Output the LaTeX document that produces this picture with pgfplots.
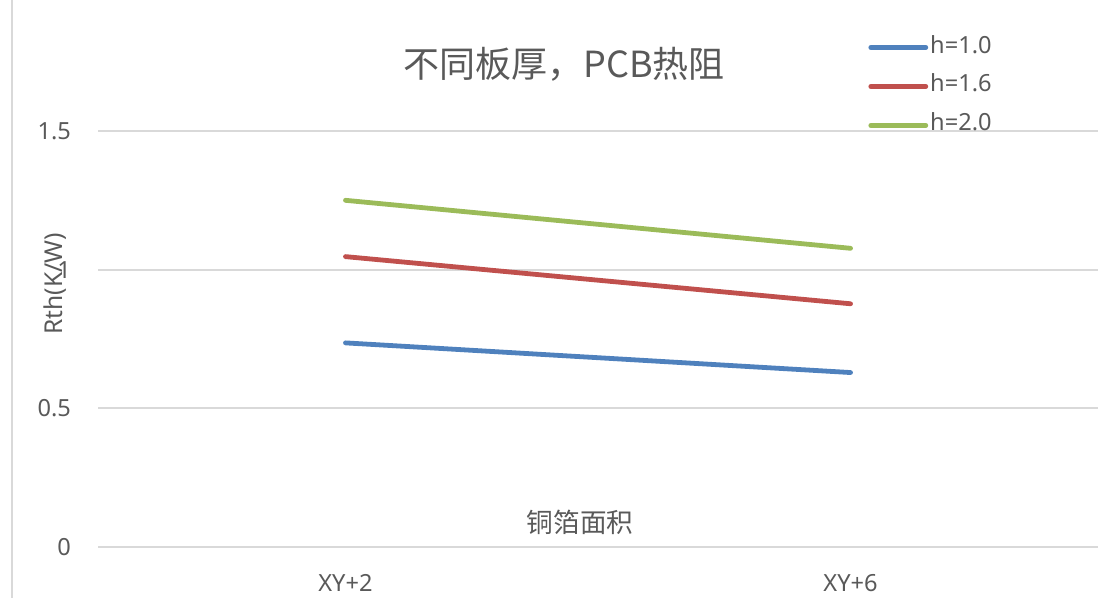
\documentclass[border=0pt]{standalone}
\usepackage{fontspec}
\setmainfont{Noto Sans}
\newfontfamily\cjk{Noto Sans CJK SC}
\usepackage{pgfplots}
\pgfplotsset{compat=1.18}
\definecolor{txt}{HTML}{595959}
\definecolor{gridc}{HTML}{D9D9D9}
\definecolor{cblue}{HTML}{4F81BD}
\definecolor{cred}{HTML}{C0504D}
\definecolor{cgreen}{HTML}{9BBB59}
\begin{document}
\begin{tikzpicture}
\useasboundingbox (0,0) rectangle (554pt,299pt);
\draw[gridc, line width=1pt] (6pt,0) -- (6pt,299pt);
\begin{axis}[
  at={(49pt,25.5pt)}, anchor=south west,
  width=500pt, height=208pt, scale only axis,
  xmin=-0.49, xmax=1.49, ymin=0, ymax=1.5,
  xtick={0,1}, xticklabels={XY+2,XY+6},
  ytick={0,0.5,1,1.5}, yticklabels={0,0.5,1,1.5},
  axis line style={draw=none},
  major tick length=0pt,
  ymajorgrids, major grid style={gridc, line width=1pt},
  tick label style={text=txt},
  xticklabel style={anchor=center, yshift=-18pt, font=\fontsize{11.8}{14}\selectfont},
  yticklabel style={anchor=east, xshift=-10pt, font=\fontsize{11.8}{14}\selectfont},
  clip=false,
  legend style={at={(0.77,1.2245)}, anchor=north west, draw=none, fill=none,
    inner sep=0pt, row sep=10pt,
    nodes={inner xsep=1pt, inner ysep=0pt, text height=7.5pt, text depth=2pt, text=txt, font=\fontsize{11.8}{14}\selectfont}},
  legend cell align=left,
  legend image code/.code={\draw[#1, line cap=round] (0pt,0pt) -- (27.5pt,0pt);},
  every axis plot/.append style={line width=2.4pt, line cap=round},
]
\addplot[cblue] coordinates {(0,0.736) (1,0.629)};
\addlegendentry{h=1.0}
\addplot[cred] coordinates {(0,1.047) (1,0.877)};
\addlegendentry{h=1.6}
\addplot[cgreen] coordinates {(0,1.250) (1,1.077)};
\addlegendentry{h=2.0}
\end{axis}
\node[text=txt, font=\fontsize{18}{21}\selectfont\cjk] at (282pt,267pt) {不同板厚，PCB热阻};
\node[text=txt, font=\fontsize{13.3}{16}\selectfont\cjk] at (290pt,38pt) {铜箔面积};
\node[text=txt, font=\fontsize{12.3}{15}\selectfont, rotate=90] at (27.5pt,157pt) {Rth(K/W)};
\end{tikzpicture}
\end{document}
